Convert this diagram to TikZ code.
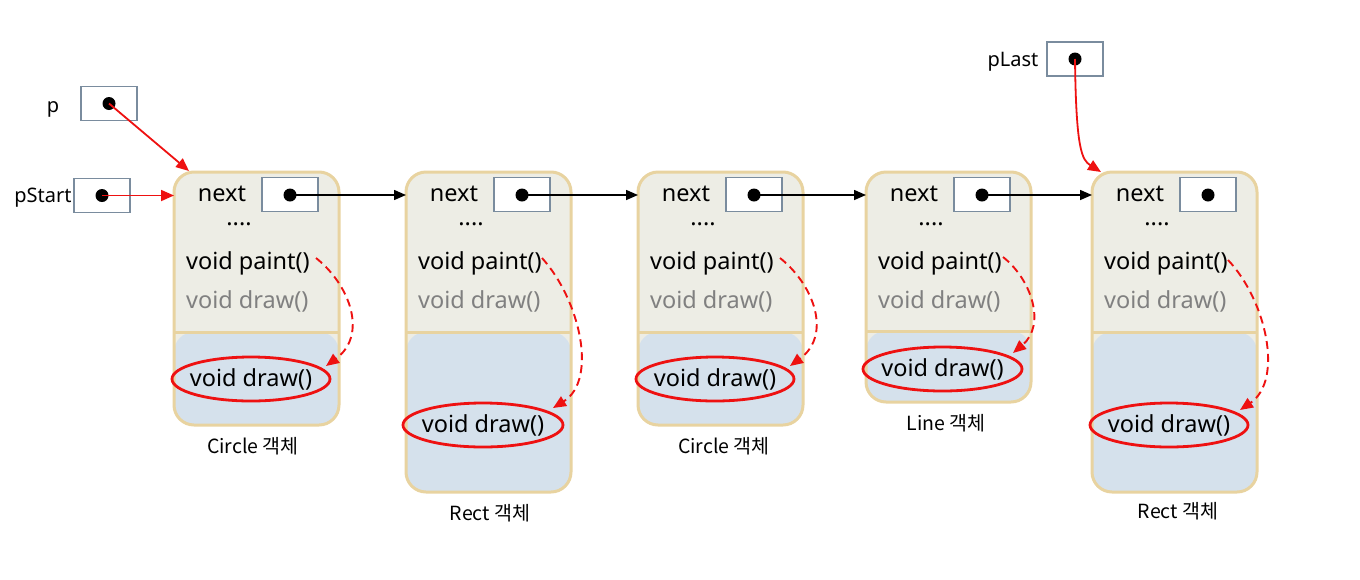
\documentclass[tikz,border=0pt]{standalone}
\usepackage{fontspec}
\setmainfont{Noto Sans}
\newfontfamily\krfont{Noto Sans CJK KR}
\usetikzlibrary{shapes.geometric,arrows.meta}
\definecolor{topfill}{HTML}{EDEDE5}
\definecolor{botfill}{HTML}{D5E1EC}
\definecolor{bordercol}{HTML}{E8D3A0}
\definecolor{ptrcol}{HTML}{7A8C9E}
\definecolor{redc}{HTML}{EE1111}
\definecolor{grayc}{HTML}{808080}
\tikzset{
  objframe/.style={draw=bordercol, line width=3pt, rounded corners=20pt, fill=topfill,
    minimum width=165pt, inner sep=0pt, outer sep=0pt,
    path picture={\fill[botfill] (path picture bounding box.south west) rectangle ([yshift=#1]path picture bounding box.south east);
      \draw[bordercol, line width=3pt] ([yshift=#1]path picture bounding box.south west) -- ([yshift=#1]path picture bounding box.south east);}},
  ptrbox/.style={draw=ptrcol, line width=1.6pt, fill=white, minimum width=56pt, minimum height=34pt, inner sep=0pt},
  ptrdot/.style={circle, fill=black, minimum size=13pt, inner sep=0pt},
  body/.style={font=\fontsize{23.5}{28}\selectfont, anchor=base west, inner sep=0pt},
  bodyc/.style={font=\fontsize{23.5}{28}\selectfont, anchor=base, inner sep=0pt},
  grayt/.style={body, text=grayc},
  callov/.style={ellipse, draw=redc, line width=2.8pt, minimum width=158pt, minimum height=44pt, inner sep=0pt,
    text height=14pt, text depth=0pt, font=\fontsize{23.5}{28}\selectfont},
  lbl/.style={font=\krfont\fontsize{19.5}{23}\selectfont, anchor=base, inner sep=0pt},
  plbl/.style={font=\fontsize{20}{24}\selectfont, anchor=base, inner sep=0pt},
  blk/.style={draw=black, line width=1.5pt, -{Triangle[length=12pt,width=10pt]}},
  redarr/.style={draw=redc, line width=1.8pt, -{Triangle[length=13pt,width=11pt]}},
  dashcall/.style={draw=redc, line width=1.9pt, dash pattern=on 8pt off 5pt, -{Triangle[length=13pt,width=11pt]}},
}
\newcommand\drawtxt{\makebox[100pt][c]{void draw()}}
\begin{document}
\begin{tikzpicture}[x=1pt,y=-1pt]
\useasboundingbox (0,0) rectangle (1360,579);
% objects
\node[objframe=93pt, minimum height=253pt] (o1) at (256.5,298.5) {};
\node[objframe=160pt, minimum height=320pt] (o2) at (488.5,332) {};
\node[objframe=93pt, minimum height=253pt] (o3) at (720.5,298.5) {};
\node[objframe=71pt, minimum height=230pt] (o4) at (948.5,287) {};
\node[objframe=160pt, minimum height=320pt] (o5) at (1174.5,332) {};
% labels
\node[lbl] (l1) at (253,453) {Circle 객체};
\node[lbl] (l2) at (490,520) {Rect 객체};
\node[lbl] (l3) at (724,453) {Circle 객체};
\node[lbl] (l4) at (946,430) {Line 객체};
\node[lbl] (l5) at (1178,518) {Rect 객체};
% inner texts
\foreach \i/\x in {1/174,2/406,3/638,4/866,5/1092}{
  \node[bodyc] (nx\i) at (\x+48,201) {next};
  \node[bodyc] (dt\i) at (\x+65,225) {....};
  \node[body] (pa\i) at (\x+12,269) {void paint()};
  \node[grayt] (gd\i) at (\x+12,308) {void draw()};
  \node[ptrbox] (nb\i) at (\x+116,194.5) {};
  \node[ptrdot] (nd\i) at (\x+116,195) {};
}
% ellipses
\node[callov] (e1) at (251,379) {\drawtxt};
\node[callov, minimum width=160pt] (e2) at (483,425) {\drawtxt};
\node[callov] (e3) at (715,379) {\drawtxt};
\node[callov, minimum width=159pt] (e4) at (942.5,369) {\drawtxt};
\node[callov] (e5) at (1169,425) {\drawtxt};
% pointer variables
\node[ptrbox] (pb) at (109,103.5) {};
\node[ptrdot] (pd) at (109,103.5) {};
\node[plbl] (pl) at (53,112) {p};
\node[ptrbox] (sb) at (102,195.5) {};
\node[ptrdot] (sd) at (102,195.5) {};
\node[plbl] (sl) at (43,202) {pStart};
\node[ptrbox] (lb) at (1075,59) {};
\node[ptrdot] (ld) at (1075,59) {};
\node[plbl] (ll) at (1013,66) {pLast};
% red pointer arrows
\coordinate (pt1) at (189,171);
\draw[redarr] (pd.center) -- (pt1);
\draw[redarr] (sd.center) -- (sd.center -| o1.west);
\coordinate (pt5) at (1101,172);
\draw[redarr] (ld.center) .. controls (1076,150) and (1082,160) .. (pt5);
% next links
\draw[blk] (nd1.center) -- (nd1.center -| o2.west);
\draw[blk] (nd2.center) -- (nd2.center -| o3.west);
\draw[blk] (nd3.center) -- (nd3.center -| o4.west);
\draw[blk] (nd4.center) -- (nd4.center -| o5.west);
% dashed calls
\coordinate (s1) at (316,258); \coordinate (t1) at (326,366);
\draw[dashcall] (s1) .. controls (350,285) and (368,335) .. (t1);
\coordinate (s2) at (542,258); \coordinate (t2) at (553,408);
\draw[dashcall] (s2) .. controls (580,300) and (598,380) .. (t2);
\coordinate (s3) at (780,258); \coordinate (t3) at (790,366);
\draw[dashcall] (s3) .. controls (814,285) and (832,335) .. (t3);
\coordinate (s4) at (1003,257); \coordinate (t4) at (1013,353);
\draw[dashcall] (s4) .. controls (1032,280) and (1046,325) .. (t4);
\coordinate (s5) at (1228,260); \coordinate (t5) at (1240,410);
\draw[dashcall] (s5) .. controls (1266,300) and (1284,380) .. (t5);
\end{tikzpicture}
\end{document}
